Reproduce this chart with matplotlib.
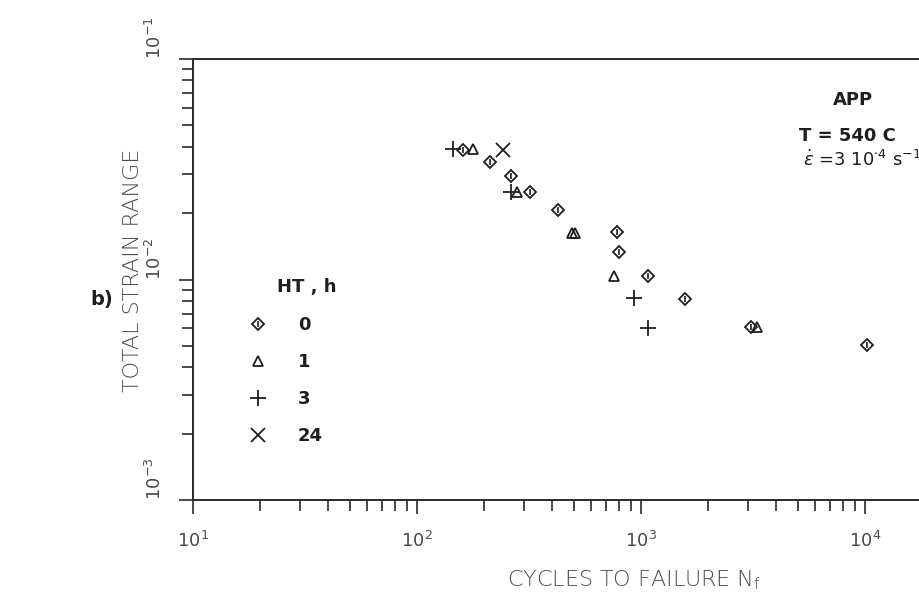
import matplotlib
matplotlib.use("Agg")
import matplotlib.pyplot as plt
from matplotlib.ticker import LogLocator, NullFormatter, FixedLocator
from matplotlib.legend_handler import HandlerTuple

# cycles to failure / total strain range, by heat treatment time (h)
n_ht0 = [160, 212, 263, 319, 426, 782, 798, 1074, 1571, 3097, 10200]
e_ht0 = [0.0387, 0.0341, 0.0294, 0.0249, 0.0207, 0.0164, 0.0133, 0.0104, 0.0082, 0.0061, 0.00505]
n_ht1 = [178, 279, 492, 510, 757, 3296]
e_ht1 = [0.0389, 0.0249, 0.0163, 0.0163, 0.0104, 0.0061]
n_ht3 = [145, 263, 930, 1074]
e_ht3 = [0.0391, 0.0249, 0.00824, 0.00602]
n_ht24 = [242]
e_ht24 = [0.0387]

ht_labels = ["0", "1", "3", "24"]
x_ticks = [1e1, 1e2, 1e3, 1e4]
x_ticklabels = [r"$10^{1}$", r"$10^{2}$", r"$10^{3}$", r"$10^{4}$"]
y_ticks = [1e-3, 1e-2, 1e-1]
y_ticklabels = [r"$10^{-3}$", r"$10^{-2}$", r"$10^{-1}$"]

ink = "#1e1e1e"
grey = "#4a4a4a"

fig = plt.figure(figsize=(9.2, 6.06), dpi=100)
ax = fig.add_axes([193 / 920, 106 / 606, 727 / 920, 441 / 606])
ax.set_xscale("log")
ax.set_yscale("log")
ax.set_xlim(10, 10 ** 4.2455)
ax.set_ylim(1e-3, 1e-1)

# data
d1, = ax.plot(n_ht0, e_ht0, linestyle="none", marker="D", ms=6.5, mfc="none",
              mec=ink, mew=1.3)
d2, = ax.plot(n_ht0, e_ht0, linestyle="none", marker="|", ms=5, mec=ink, mew=1.2)
t1, = ax.plot(n_ht1, e_ht1, linestyle="none", marker="^", ms=7.5, mfc="none",
              mec=ink, mew=1.3)
p1, = ax.plot(n_ht3, e_ht3, linestyle="none", marker="+", ms=11, mec=ink, mew=1.3)
x1, = ax.plot(n_ht24, e_ht24, linestyle="none", marker="x", ms=10, mec=ink, mew=1.3)

# axes look
for side in ["left", "bottom", "top"]:
    ax.spines[side].set_linewidth(1.4)
    ax.spines[side].set_color("#2a2a2a")
ax.spines["right"].set_visible(False)

ax.xaxis.set_major_locator(FixedLocator(x_ticks))
ax.set_xticklabels(x_ticklabels)
ax.xaxis.set_minor_locator(LogLocator(base=10, subs=range(2, 10)))
ax.xaxis.set_minor_formatter(NullFormatter())
ax.yaxis.set_major_locator(FixedLocator(y_ticks))
ax.set_yticklabels(y_ticklabels)
ax.yaxis.set_minor_locator(LogLocator(base=10, subs=range(2, 10)))
ax.yaxis.set_minor_formatter(NullFormatter())

ax.tick_params(which="both", direction="out", color="#2a2a2a", width=1.2,
               top=False, right=False)
ax.tick_params(which="major", length=10)
ax.tick_params(which="minor", length=8)
ax.tick_params(axis="x", labelsize=13, labelcolor=grey, pad=12)
ax.tick_params(axis="y", labelsize=13, labelcolor=grey, pad=10)
for lbl in ax.get_yticklabels():
    lbl.set_rotation(90)
    lbl.set_rotation_mode("anchor")
    lbl.set_ha("left")
    lbl.set_va("bottom")

ax.set_xlabel(r"CYCLES TO FAILURE N$_\mathregular{f}$", fontsize=16, color=grey,
              fontweight="light")
ax.xaxis.set_label_coords(0.607, -0.181)
ax.xaxis.label.set_va("center")
ax.set_ylabel("TOTAL STRAIN RANGE", fontsize=16, color=grey, fontweight="light")
ax.yaxis.set_label_coords(-0.083, 0.5215)
ax.yaxis.label.set_va("center")

# legend
ax.text((277 - 193) / 727, (500 - 287) / 441, "HT , h", transform=ax.transAxes,
        fontsize=13, fontweight="bold", color=ink, ha="left", va="center")
leg = ax.legend([(d1, d2), t1, p1, x1], ht_labels,
                handler_map={tuple: HandlerTuple(ndivide=1, pad=0)},
                loc="upper left", bbox_to_anchor=((249 - 193) / 727, (500 - 316) / 441),
                borderaxespad=0, borderpad=0, frameon=False, handlelength=1.0,
                handletextpad=1.7, labelspacing=1.05,
                prop={"size": 13, "weight": "bold"})
for txt in leg.get_texts():
    txt.set_color(ink)

# annotations
fig.text(853 / 920, 1 - 100 / 606, "APP", fontsize=13, fontweight="bold",
         color=ink, ha="center", va="center")
fig.text(799 / 920, 1 - 136 / 606, "T = 540 C", fontsize=13, fontweight="bold",
         color=ink, ha="left", va="center")
fig.text(803 / 920, 1 - 160 / 606, r"$\dot{\varepsilon}$ =3 10$^{\cdot 4}$ s$^{-1}$",
         fontsize=13, color=ink, ha="left", va="center")
fig.text(102 / 920, 1 - 300 / 606, "b)", fontsize=14, fontweight="bold",
         color=ink, ha="center", va="center")

fig.savefig("out.png", dpi=100, facecolor="white")
